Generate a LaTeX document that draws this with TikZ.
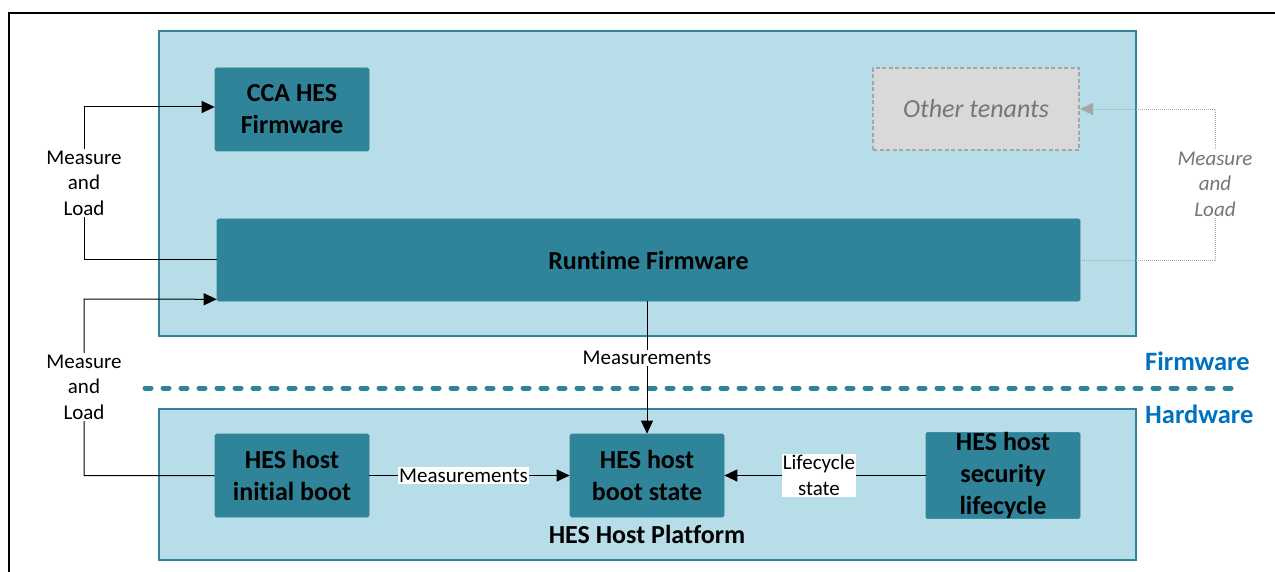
\documentclass[tikz,border=0pt]{standalone}
\usepackage{fontspec}
\setmainfont{Carlito}[Ligatures=NoCommon]
\usetikzlibrary{arrows.meta}
\definecolor{panelfill}{RGB}{183,222,232}
\definecolor{paneledge}{RGB}{49,133,155}
\definecolor{boxfill}{RGB}{47,132,153}
\definecolor{tenantfill}{RGB}{217,217,217}
\definecolor{tenantedge}{RGB}{166,166,166}
\definecolor{tenanttext}{RGB}{118,118,118}
\definecolor{layerblue}{RGB}{0,112,192}
\tikzset{
  panel/.style={draw=paneledge, fill=panelfill, line width=1.2pt},
  blk/.style={fill=boxfill, draw=boxfill, line width=0.6pt, rounded corners=1.5pt, align=center,
    font=\fontsize{26}{32}\selectfont\bfseries, text=black, inner sep=0pt},
  tenant/.style={fill=tenantfill, draw=tenantedge, dashed, dash pattern=on 4pt off 2.5pt, line width=2pt,
    font=\fontsize{26}{30}\selectfont\itshape, text=tenanttext, inner sep=0pt},
  link/.style={draw=black, line width=1pt},
  tip/.style={-{Triangle[length=13pt,width=12pt]}},
  lbl/.style={fill=white, align=center, inner sep=1.5pt, font=\fontsize{21}{25.5}\selectfont},
  faint/.style={draw=tenantedge, line width=0.8pt, dotted, dash pattern=on 1pt off 1pt},
  faintlbl/.style={fill=white, align=center, inner sep=1.5pt, text=tenanttext,
    font=\fontsize{21}{25.5}\selectfont\itshape},
  layer/.style={text=layerblue, font=\fontsize{26.5}{30}\selectfont\bfseries, inner sep=0pt, anchor=west},
  divider/.style={draw=boxfill, line width=5pt, line cap=round, dash pattern=on 6pt off 12pt}
}
\begin{document}
\begin{tikzpicture}[x=1pt,y=-1pt]
\useasboundingbox (0,0) rectangle (1275,572);

% outer frame
\draw[line width=2pt] (9,572) -- (9,13) -- (1275,13);

% firmware and hardware layers
\draw[panel] (159,31) rectangle (1136,336);
\draw[panel] (159,409) rectangle (1136,560);

% firmware components
\node[blk, minimum width=154pt, minimum height=83pt] (cca) at (292,109.5) {CCA HES\\Firmware};
\node[tenant, minimum width=206pt, minimum height=82pt] (ot) at (976,109) {Other tenants};
\node[blk, minimum width=863pt, minimum height=82pt] (rt) at (648.5,260) {Runtime Firmware};

% hardware components
\node[blk, minimum width=154pt, minimum height=83pt] (ib) at (292,475.5) {HES host\\initial boot};
\node[blk, minimum width=154pt, minimum height=83pt] (bs) at (647,475.5) {HES host\\boot state};
\node[blk, minimum width=154pt, minimum height=83pt] (sl) at (1003,475.5) {HES host\\security\\lifecycle};
\node[font=\fontsize{26}{30}\selectfont\bfseries, inner sep=0pt] (plat) at (647,534) {HES Host Platform};

% layer divider and captions
\coordinate (dl) at (145,388);
\coordinate (dr) at (1232,388);
\draw[divider] (dl) -- (dr);
\node[layer] (fwcap) at (1145,361) {Firmware};
\node[layer] (hwcap) at (1145,414) {Hardware};

% runtime firmware loads the CCA HES firmware
\draw[link, tip] (rt.west) -- (84,260) -- (84,107) -- (cca.west |- 0,107);
\node[lbl] (ml1) at (84,183) {Measure\\and\\Load};

% initial boot loads the runtime firmware
\draw[link, tip] (ib.west) -- (84,475.5) -- (84,299) -- ([yshift=2pt]rt.south west);
\node[lbl] (ml2) at (84,387) {Measure\\and\\Load};

% runtime firmware loads other tenants
\draw[faint, -{Triangle[length=13pt,width=12pt]}, tenantedge] (rt.east) -- (1215,260) -- (1215,109) -- (ot.east);
\node[faintlbl] (ml3) at (1215,184) {Measure\\and\\Load};

% measurements into the boot state
\draw[link, tip] (bs.north |- rt.south) -- (bs.north);
\node[lbl] (m1) at (647,358) {Measurements};
\draw[link, tip] (ib.east) -- node[lbl, pos=0.47] (m2) {Measurements} (bs.west);
\draw[link, tip] (sl.west) -- node[lbl, pos=0.53, inner sep=1pt] (lc) {Lifecycle\\state} (bs.east);
\end{tikzpicture}
\end{document}
